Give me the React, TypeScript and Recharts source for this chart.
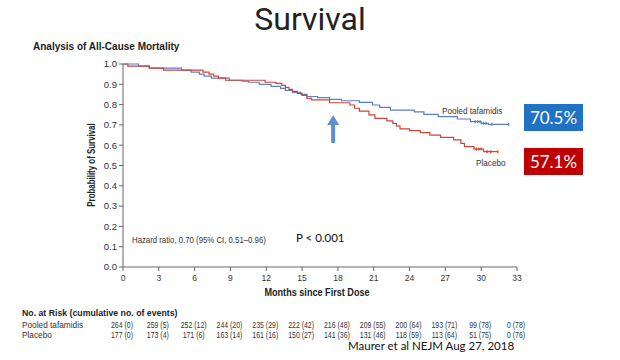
import React from 'react'
import {
  ComposedChart, Line, Scatter, XAxis, YAxis, ReferenceDot,
} from 'recharts'

// Kaplan-Meier steps: [month, survival]
const tafamidisSteps: [number, number][] = [
  [0, 1.0], [1.3, 0.99], [2.2, 0.98], [4.9, 0.97], [5.7, 0.96], [6.4, 0.95], [6.8, 0.94],
  [7.4, 0.93], [8.9, 0.92], [10.0, 0.915], [10.5, 0.91], [11.4, 0.9], [12.4, 0.89],
  [13.2, 0.88], [13.6, 0.87], [14.2, 0.86], [14.9, 0.85], [15.4, 0.84], [16.3, 0.834],
  [17.3, 0.826], [18.3, 0.819], [19.8, 0.811], [20.9, 0.798], [21.5, 0.786], [22.4, 0.773],
  [24.4, 0.764], [25.2, 0.752], [26.4, 0.741], [28.0, 0.729], [29.1, 0.716], [30.0, 0.708],
  [30.6, 0.703], [32.3, 0.703],
]
const placeboSteps: [number, number][] = [
  [0, 1.0], [0.4, 0.99], [2.2, 0.98], [3.4, 0.97], [6.7, 0.96], [7.2, 0.95], [7.6, 0.94],
  [8.0, 0.93], [8.6, 0.92], [11.9, 0.91], [12.8, 0.905], [13.3, 0.895], [13.6, 0.885],
  [13.9, 0.875], [14.2, 0.865], [14.6, 0.855], [15.0, 0.845], [15.4, 0.831], [15.8, 0.823],
  [17.3, 0.809], [19.0, 0.798], [19.4, 0.782], [19.8, 0.768], [20.6, 0.749], [21.1, 0.732],
  [22.1, 0.72], [22.6, 0.707], [22.9, 0.695], [23.2, 0.68], [24.0, 0.672], [24.9, 0.662],
  [25.7, 0.65], [26.6, 0.639], [27.7, 0.626], [28.3, 0.609], [28.6, 0.593], [29.4, 0.581],
  [30.2, 0.568], [31.4, 0.568],
]
const tafamidisCensored: [number, number][] = [
  [29.5, 0.716], [29.7, 0.716], [29.9, 0.716], [30.2, 0.708], [30.4, 0.708], [30.9, 0.703], [32.3, 0.703],
]
const placeboCensored: [number, number][] = [
  [29.6, 0.581], [29.8, 0.581], [30.0, 0.581], [30.5, 0.568], [30.8, 0.568], [31.4, 0.568],
]

const monthTicks = [0, 3, 6, 9, 12, 15, 18, 21, 24, 27, 30, 33]
const survivalTicks = [0, 0.1, 0.2, 0.3, 0.4, 0.5, 0.6, 0.7, 0.8, 0.9, 1.0]
const tafamidisAtRisk = ['264 (0)', '259 (5)', '252 (12)', '244 (20)', '235 (29)', '222 (42)', '216 (48)', '209 (55)', '200 (64)', '193 (71)', '99 (78)', '0 (78)']
const placeboAtRisk = ['177 (0)', '173 (4)', '171 (6)', '163 (14)', '161 (16)', '150 (27)', '141 (36)', '131 (46)', '118 (59)', '113 (64)', '51 (75)', '0 (76)']

const toPoints = (rows: [number, number][]) => rows.map(([t, s]) => ({ t, s }))

const BLUE = '#5b7fc6'
const RED = '#d0453a'
const NEJM = '"Liberation Sans", Arial, sans-serif'
const SLIDE = 'Lato, "Open Sans", sans-serif'

const tickStyle = { fontSize: 9.5, fill: '#333', fontFamily: NEJM }

// condensed text, squeezed horizontally around (x, y)
const Narrow = ({ x, y, k, children, size }: any) => (
  <text
    transform={`translate(${x},${y}) scale(${k},1)`} textAnchor="middle" dominantBaseline="central"
    fontSize={size} fill="#333" fontFamily={NEJM}
  >
    {children}
  </text>
)

// month tick plus the at-risk table underneath it
const MonthTick = (props: any) => {
  const { x, y, payload } = props
  const i = monthTicks.indexOf(payload.value)
  return (
    <g>
      <Narrow x={x} y={y + 3.5} k={0.9} size={9.5}>{payload.value}</Narrow>
      <Narrow x={x - 1} y={y + 51} k={0.74} size={9.4}>{tafamidisAtRisk[i]}</Narrow>
      <Narrow x={x - 1} y={y + 61} k={0.74} size={9.4}>{placeboAtRisk[i]}</Narrow>
    </g>
  )
}

const CensorTick = (props: any) => {
  const { cx, cy, fill } = props
  return <line x1={cx} x2={cx} y1={cy - 1.5} y2={cy + 1.5} stroke={fill} strokeWidth={1.3} />
}

const Arrow = (props: any) => {
  const { cx, cy } = props
  return (
    <g fill="#5b8fd1">
      <polygon points={`${cx},${cy - 14} ${cx - 6},${cy - 4} ${cx + 6},${cy - 4}`} />
      <rect x={cx - 2} y={cy - 5} width={4} height={19} />
    </g>
  )
}

const abs = (left: number, top: number, extra: React.CSSProperties = {}): React.CSSProperties => ({
  position: 'absolute', left, top, whiteSpace: 'nowrap', ...extra,
})
const squeeze = (k: number, origin = 'left center'): React.CSSProperties => ({
  transform: `scaleX(${k})`, transformOrigin: origin,
})

export default function App() {
  return (
    <div style={{ position: 'absolute', left: 0, top: 0, width: 620, height: 360, background: '#fff', overflow: 'hidden' }}>
      <ComposedChart width={620} height={360} margin={{ top: 64, right: 103, bottom: 0, left: 0 }}>
        <XAxis
          xAxisId="main" dataKey="t" type="number" domain={[0, 33]} ticks={monthTicks} interval={0}
          height={93} tickSize={4} tickMargin={3} tick={<MonthTick />} stroke="#666"
        />
        <YAxis
          dataKey="s" type="number" domain={[0, 1]} ticks={survivalTicks} interval={0} width={123}
          tickSize={4} tickMargin={2} tick={tickStyle} stroke="#666" tickFormatter={(v) => v.toFixed(1)}
        />
        <Line
          xAxisId="main" data={toPoints(tafamidisSteps)} dataKey="s" type="stepAfter"
          stroke={BLUE} strokeWidth={1.2} dot={false} isAnimationActive={false}
        />
        <Line
          xAxisId="main" data={toPoints(placeboSteps)} dataKey="s" type="stepAfter"
          stroke={RED} strokeWidth={1.2} dot={false} isAnimationActive={false}
        />
        <Scatter
          xAxisId="main" data={toPoints(tafamidisCensored)} dataKey="s" fill={BLUE}
          shape={<CensorTick />} isAnimationActive={false}
        />
        <Scatter
          xAxisId="main" data={toPoints(placeboCensored)} dataKey="s" fill={RED}
          shape={<CensorTick />} isAnimationActive={false}
        />
        <ReferenceDot xAxisId="main" x={17.6} y={0.68} r={0} shape={<Arrow />} ifOverflow="visible" />
      </ComposedChart>

      <div style={abs(230, 0, { width: 160, textAlign: 'center', fontFamily: 'Roboto, "Open Sans", sans-serif', fontSize: 32, lineHeight: '38px', color: '#222' })}>Survival</div>
      <div style={abs(33, 41, { fontFamily: NEJM, fontSize: 10, fontWeight: 700, lineHeight: '12px', color: '#222' })}>Analysis of All-Cause Mortality</div>
      <div style={abs(92, 165, { fontFamily: NEJM, fontSize: 10, fontWeight: 700, lineHeight: '12px', color: '#222', transform: 'translate(-50%, -50%) rotate(-90deg) scaleX(0.79)' })}>Probability of Survival</div>
      <div style={abs(317, 293, { fontFamily: NEJM, fontSize: 10, fontWeight: 700, lineHeight: '12px', color: '#222', transform: 'translate(-50%, -50%) scaleX(0.91)' })}>Months since First Dose</div>
      <div style={abs(132, 234, { fontFamily: NEJM, fontSize: 9.5, lineHeight: '12px', color: '#333', ...squeeze(0.82) })}>Hazard ratio, 0.70 (95% CI, 0.51–0.96)</div>
      <div style={abs(296, 231, { fontFamily: SLIDE, fontSize: 11.5, lineHeight: '14px', color: '#111' })}>P &lt; 0.001</div>
      <div style={abs(442, 105, { fontFamily: NEJM, fontSize: 9.5, lineHeight: '12px', color: '#333', ...squeeze(0.86) })}>Pooled tafamidis</div>
      <div style={abs(476, 157, { fontFamily: NEJM, fontSize: 9.5, lineHeight: '12px', color: '#333', ...squeeze(0.86) })}>Placebo</div>
      <div style={abs(524, 104, { width: 59, height: 27, background: '#1f72c4', color: '#fff', fontFamily: SLIDE, fontSize: 17, lineHeight: '27px', textAlign: 'center' })}>70.5%</div>
      <div style={abs(524, 148, { width: 59, height: 27, background: '#c00000', color: '#fff', fontFamily: SLIDE, fontSize: 17, lineHeight: '27px', textAlign: 'center' })}>57.1%</div>
      <div style={abs(22, 307, { fontFamily: NEJM, fontSize: 9.5, fontWeight: 700, lineHeight: '12px', color: '#222', ...squeeze(0.92) })}>No. at Risk (cumulative no. of events)</div>
      <div style={abs(22, 319, { fontFamily: NEJM, fontSize: 9.5, lineHeight: '12px', color: '#333', ...squeeze(0.87) })}>Pooled tafamidis</div>
      <div style={abs(22, 329, { fontFamily: NEJM, fontSize: 9.5, lineHeight: '12px', color: '#333', ...squeeze(0.87) })}>Placebo</div>
      <div style={abs(348, 339, { fontFamily: SLIDE, fontSize: 11.5, lineHeight: '14px', color: '#111' })}>Maurer et al NEJM Aug 27, 2018</div>
    </div>
  )
}
